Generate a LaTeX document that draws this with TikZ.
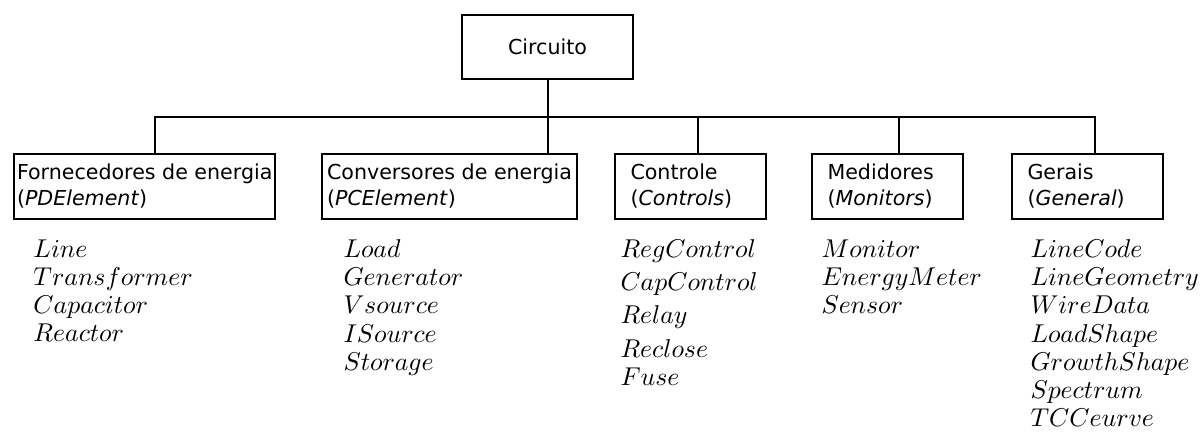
\documentclass[tikz,border=0pt]{standalone}
\usepackage{fix-cm}
\usepackage{fontspec}
\setsansfont{DejaVu Sans}
\newcommand{\boxfont}{\sffamily\fontsize{8.24}{10.4}\selectfont}
\newcommand{\listfont}{\fontsize{10.3}{11.3}\selectfont}
\tikzset{
	topbox/.style={draw, thick, font=\boxfont, minimum width=68.4pt, minimum height=25.6pt},
	catbox/.style={draw, thick, anchor=north west, font=\boxfont, align=left, minimum height=26pt, inner xsep=1.2pt},
	smallbox/.style={catbox, text width=48pt, inner xsep=6.2pt},
	itemlist/.style={anchor=north west, font=\listfont, align=left, inner sep=0pt}
}
\begin{document}
\begin{tikzpicture}[x=40pt,y=40pt]
	\useasboundingbox (0,0) rectangle (12,4.47);
	\node[topbox] (circ) at (5.475,4.00) {Circuito};
	
	\node[catbox, minimum width=104.4pt] (forn) at (0.13,2.94) {Fornecedores de energia\\(\textit{PDElement})};
	\node[catbox, minimum width=102pt] (conv) at (3.21,2.94) {Conversores de energia\\(\textit{PCElement})};
	\node[smallbox] (ctrl) at (6.14,2.94) {Controle\\(\textit{Controls})};
	\node[smallbox] (med) at (8.11,2.94) {Medidores\\(\textit{Monitors})};
	\node[smallbox] (ger) at (10.11,2.94) {Gerais\\(\textit{General})};
	
	\coordinate (b1) at (1.55,3.30);
	\coordinate (b2) at (5.475,3.30);
	\coordinate (b3) at (6.98,3.30);
	\coordinate (b4) at (8.99,3.30);
	\coordinate (b5) at (10.95,3.30);
	
	\draw[thick] (circ) -- (b2)
	(b1 |- forn.north) -- (b1) -- (b5) -- (b5 |- ger.north)
	(b2) edge (b2 |- conv.north)
	(b3) edge (b3 |- ctrl.north)
	(b4) edge (b4 |- med.north);
	
	\node[itemlist] (pdlist) at (0.33,2.08) {$Line$\\$Transformer$\\$Capacitor$\\$Reactor$};
	\node[itemlist] (pclist) at (3.43,2.08) {$Load$\\$Generator$\\$Vsource$\\$ISource$\\$Storage$};
	\node[itemlist] (ctlist) at (6.20,2.08) {$RegControl$\\[2pt]$CapControl$\\[2pt]$Relay$\\[2pt]$Reclose$\\$Fuse$};
	\node[itemlist] (molist) at (8.21,2.08) {$Monitor$\\$EnergyMeter$\\$Sensor$};
	\node[itemlist] (gelist) at (10.30,2.08) {$LineCode$\\$LineGeometry$\\$WireData$\\$LoadShape$\\$GrowthShape$\\$Spectrum$\\$TCCeurve$};
\end{tikzpicture}
\end{document}
